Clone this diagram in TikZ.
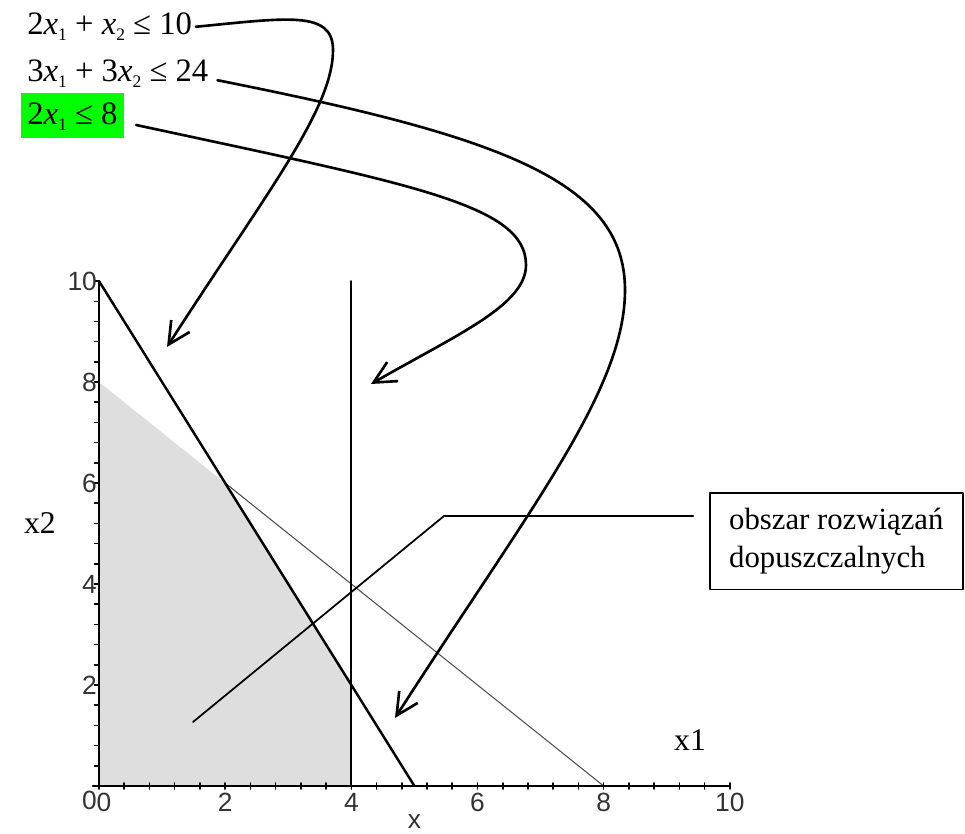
\documentclass[tikz,border=0pt]{standalone}
\usepackage{fontspec}
\setmainfont{Liberation Serif}
\setsansfont{Liberation Sans}
\usetikzlibrary{arrows.meta}

% lowered small index
\newcommand\lowi[1]{\raisebox{-3pt}{\fontsize{10}{10}\selectfont #1}}
\newcommand\vx{\textit{x}}

\begin{document}
\begin{tikzpicture}[x=0.02cm, y=-0.02cm, line cap=round, line join=round,
	eqn/.style={inner sep=0pt, anchor=base west, font=\fontsize{18.6}{22}\selectfont},
	lbl/.style={inner sep=0pt, font=\fontsize{18}{21.5}\selectfont},
	pointer/.style={line width=1.5pt, -{Straight Barb[length=4.4mm, width=4.4mm]}},
	ticklab/.style={font=\sffamily\fontsize{15}{15}\selectfont, text=black!80, inner sep=1pt},
	axis/.style={line width=0.9pt},
	thinline/.style={line width=0.6pt, black!70},
	thickline/.style={line width=1.4pt},
	vline/.style={line width=1pt},
	feasible/.style={fill=black!13},
	leader/.style={line width=1pt}]
	
	% Define bounding box
	\useasboundingbox (0,0) rectangle (965,834);
	
	% Plot of the constraints
	\begin{scope}[shift={(99,786)}, x=1.262cm, y=1.01cm]
		\fill[feasible] (0,0) -- (0,8) -- (2,6) -- (4,2) -- (4,0) -- cycle;
		\draw[thinline] (2,6) -- (8,0);
		\draw[thickline] (0,10) -- (5,0);
		\draw[vline] (4,0) -- (4,10);
		
		% Coordinate axes
		\draw[axis] (-0.1,0) -- (10,0);
		\draw[axis] (0,0) -- (0,10);
		\foreach \i in {0,...,25} {
			\draw[axis] (\i*0.4,-0.06) -- (\i*0.4,0.06);
			\draw[axis] (-0.07,\i*0.4) -- (0,\i*0.4);
		}
		
		% Tick labels
		\foreach \v in {2,4,...,10} {
			\node[ticklab, anchor=north] at (\v,-0.1) {\v};
			\node[ticklab, anchor=east] at (0,\v) {\v};
		}
		\node[ticklab, anchor=north] at (0.08,-0.1) {0};
		\node[ticklab, anchor=east] at (0,-0.28) {0};
		\node[ticklab] at (5,-0.7) {x};
	\end{scope}
	
	% Axis names
	\node[lbl] (x2lab) at (40,523) {x2};
	\node[lbl] (x1lab) at (690,740) {x1};
	
	% Constraints
	\node[eqn] (eq1) at (27,35) {2\vx\lowi{1} + \vx\lowi{2} ≤ 10};
	\node[eqn] (eq2) at (27,82) {3\vx\lowi{1} + 3\vx\lowi{2} ≤ 24};
	\node[eqn, fill=green, inner xsep=3.4pt, inner ysep=5.9pt, text height=12.2pt, text depth=1.5pt] (eq3) at (21,125) {2\vx\lowi{1} ≤ 8};
	
	% Arrow ends
	\coordinate (tipA) at (167,347);
	\coordinate (tipB) at (395,718);
	\coordinate (tipC) at (371,384);
	
	\draw[pointer] ([xshift=2pt]eq1.east) .. controls (287,18) and (333,10) .. (333,50)
		.. controls (333,110) and (264,196) .. (tipA);
	\draw[pointer] ([shift={(5pt,1pt)}]eq2.base east) .. controls (498,136) and (625,180) .. (625,290)
		.. controls (625,390) and (530,508) .. (tipB);
	\draw[pointer] ([xshift=7pt]eq3.base east) .. controls (415,185) and (526,205) .. (526,265)
		.. controls (526,305) and (458,334) .. (tipC);
	
	% Feasible region label
	\node[draw, line width=0.9pt, anchor=north west, inner xsep=10pt, minimum width=144pt,
		minimum height=55pt, align=left, font=\fontsize{17.5}{21.5}\selectfont] (box) at (709,492)
		{obszar rozwiązań\\dopuszczalnych};
	\coordinate (bend) at (444,516);
	\coordinate (spot) at (193,722);
	\draw[leader, shorten <=9pt] (box.west |- bend) -- (bend) -- (spot);
	
\end{tikzpicture}
\end{document}
